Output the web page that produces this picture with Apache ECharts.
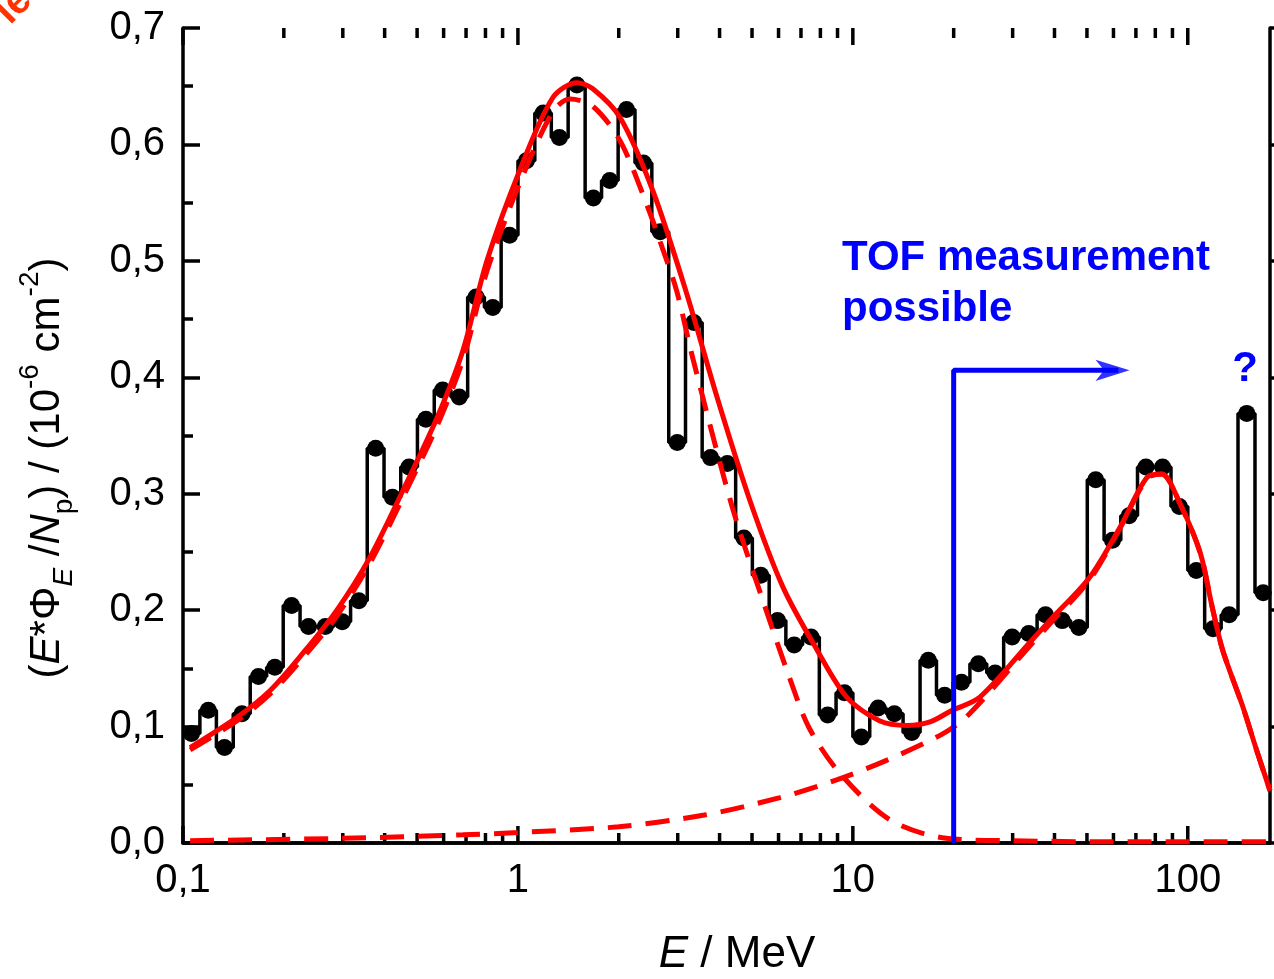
<!DOCTYPE html>
<html>
<head>
<meta charset="utf-8">
<script src="https://cdn.jsdelivr.net/npm/echarts@6/dist/echarts.min.js"></script>
<style>
  html, body { margin: 0; padding: 0; background: #fff; }
  #main { width: 1274px; height: 979px; }
</style>
</head>
<body>
<div id="main"></div>
<script>
// measured histogram (bin centre energy in MeV, E*Phi_E/N_p in 1e-6 cm^-2)
const binEnergy = [
  0.106, 0.119, 0.133, 0.150, 0.168, 0.188, 0.211, 0.237, 0.266, 0.299,
  0.335, 0.376, 0.422, 0.473, 0.531, 0.596, 0.668, 0.750, 0.841, 0.944,
  1.06, 1.19, 1.33, 1.50, 1.68, 1.88, 2.11, 2.37, 2.66, 2.99,
  3.35, 3.76, 4.22, 4.73, 5.31, 5.96, 6.68, 7.50, 8.41, 9.44,
  10.6, 11.9, 13.3, 15.0, 16.8, 18.8, 21.1, 23.7, 26.6, 29.9,
  33.5, 37.6, 42.2, 47.3, 53.1, 59.6, 66.8, 75.0, 84.1, 94.4,
  106, 119, 133, 150, 168
];
const binValue = [
  0.094, 0.114, 0.082, 0.111, 0.143, 0.151, 0.204, 0.186, 0.186, 0.190,
  0.208, 0.339, 0.297, 0.323, 0.364, 0.389, 0.383, 0.469, 0.460, 0.522,
  0.586, 0.627, 0.606, 0.651, 0.554, 0.569, 0.630, 0.584, 0.525, 0.344,
  0.447, 0.331, 0.326, 0.262, 0.230, 0.191, 0.170, 0.177, 0.110, 0.129,
  0.091, 0.116, 0.111, 0.095, 0.157, 0.127, 0.138, 0.154, 0.146, 0.177,
  0.180, 0.196, 0.191, 0.185, 0.312, 0.260, 0.281, 0.323, 0.323, 0.289,
  0.234, 0.184, 0.196, 0.369, 0.215
];

// total fit (solid red)
const fitEnergy = [
  0.105, 0.145, 0.182, 0.228, 0.288, 0.361, 0.454, 0.573, 0.685, 0.808,
  1.01, 1.27, 1.50, 1.67, 2.02, 2.53, 3.19, 3.93, 4.93, 6.18,
  7.81, 9.60, 12.0, 14.5, 17.0, 19.8, 23.9, 33.7, 38.7, 50.9,
  62.7, 75.5, 83.6, 94.6, 109, 118, 127, 146, 160, 176
];
const fitValue = [
  0.082, 0.108, 0.131, 0.163, 0.200, 0.245, 0.303, 0.365, 0.423, 0.500,
  0.577, 0.640, 0.653, 0.648, 0.623, 0.560, 0.472, 0.383, 0.294, 0.220,
  0.166, 0.125, 0.105, 0.101, 0.104, 0.114, 0.125, 0.172, 0.191, 0.228,
  0.271, 0.314, 0.317, 0.292, 0.249, 0.204, 0.166, 0.117, 0.081, 0.045
];

// low-energy component (dashed red)
const lowEnergy = [
  0.105, 0.145, 0.182, 0.228, 0.288, 0.361, 0.454, 0.573, 0.685, 0.808,
  1.01, 1.27, 1.43, 1.67, 2.02, 2.42, 2.70, 2.98, 3.33, 4.37,
  5.51, 6.47, 7.40, 9.14, 12.9, 19.0, 30, 60, 120, 176
];
const lowValue = [
  0.080, 0.105, 0.128, 0.159, 0.195, 0.240, 0.297, 0.358, 0.415, 0.491,
  0.566, 0.628, 0.639, 0.633, 0.603, 0.549, 0.511, 0.474, 0.416, 0.288,
  0.200, 0.142, 0.099, 0.060, 0.020, 0.004, 0.002, 0.001, 0.001, 0.001
];

// high-energy component (dashed red)
const highEnergy = [
  0.105, 0.3, 0.685, 1.0, 2.0, 3.6, 6.06, 8.9, 12.6, 18.6,
  22.3, 33.7, 38.7, 50.9, 62.7, 75.5, 83.6, 94.6, 109, 118,
  127, 146, 160, 176
];
const highValue = [
  0.002, 0.004, 0.007, 0.009, 0.014, 0.024, 0.039, 0.054, 0.071, 0.094,
  0.111, 0.169, 0.188, 0.226, 0.270, 0.313, 0.317, 0.292, 0.249, 0.204,
  0.166, 0.117, 0.081, 0.045
];

// TOF threshold arrow
const arrowEnergy = [20, 20, 62];
const arrowValue = [0, 0.406, 0.406];
const arrowHead = [67, 0.406];

const xMin = 0.1, xMax = 176;
const yMin = 0, yMax = 0.7;
const majorTickValues = [0.1, 1, 10, 100];
const minorTickValues = [
  0.2, 0.3, 0.4, 0.5, 0.6, 0.7, 0.8, 0.9,
  2, 3, 4, 5, 6, 7, 8, 9,
  20, 30, 40, 50, 60, 70, 80, 90
];

const FONT = "'Liberation Sans', Arial, Helvetica, sans-serif";
const zip = (xs, ys) => xs.map((x, i) => [x, ys[i]]);
const comma = v => String(v).replace('.', ',');

// ticks along the bottom and top frame; length carried in dim 1
function frameTicks(params, api) {
  const len = api.value(1);
  const b = api.coord([api.value(0), yMin]);
  const t = api.coord([api.value(0), yMax]);
  const st = { stroke: '#000', lineWidth: 3.5 };
  return {
    type: 'group',
    children: [
      { type: 'line', shape: { x1: b[0], y1: b[1], x2: b[0], y2: b[1] - len }, style: st },
      { type: 'line', shape: { x1: t[0], y1: t[1], x2: t[0], y2: t[1] + len }, style: st }
    ]
  };
}

const axisLine = { show: true, lineStyle: { color: '#000', width: 3.5 } };
const axisTick = { show: true, inside: true, length: 17, lineStyle: { color: '#000', width: 3.5 } };
const dashed = { color: '#ff0000', width: 5, type: [24, 14] };

const option = {
  animation: false,
  backgroundColor: '#fff',
  grid: { left: 183, right: 4, top: 28, bottom: 136, outerBoundsMode: 'none' },
  xAxis: [
    {
      type: 'log', logBase: 10, min: xMin, max: xMax, position: 'bottom',
      axisLine: axisLine, axisTick: { show: false },
      splitLine: { show: false }, minorTick: { show: false },
      axisLabel: {
        color: '#000', fontSize: 40, fontFamily: FONT, margin: 18,
        showMaxLabel: false, formatter: comma
      }
    },
    {
      type: 'log', logBase: 10, min: xMin, max: xMax, position: 'top',
      axisLine: axisLine, axisTick: { show: false },
      splitLine: { show: false }, axisLabel: { show: false }
    }
  ],
  yAxis: [
    {
      type: 'value', min: yMin, max: yMax, interval: 0.1, position: 'left',
      axisLine: axisLine, axisTick: axisTick,
      minorTick: { show: true, splitNumber: 2, length: 10, lineStyle: { color: '#000', width: 3.5 } },
      splitLine: { show: false },
      axisLabel: {
        color: '#000', fontSize: 40, fontFamily: FONT, margin: 18,
        formatter: v => v.toFixed(1).replace('.', ',')
      }
    },
    {
      type: 'value', min: yMin, max: yMax, interval: 0.1, position: 'right',
      axisLine: axisLine,
      axisTick: { show: true, inside: false, length: 17, lineStyle: { color: '#000', width: 3.5 } },
      splitLine: { show: false }, axisLabel: { show: false }
    }
  ],
  series: [
    {
      type: 'custom', renderItem: frameTicks, silent: true, clip: false,
      data: majorTickValues.map(v => [v, 17]).concat(minorTickValues.map(v => [v, 10])), z: 1
    },
    {
      name: 'measured', type: 'line', step: 'middle',
      data: zip(binEnergy, binValue),
      showAllSymbol: true, symbol: 'circle', symbolSize: 17,
      itemStyle: { color: '#000' },
      lineStyle: { color: '#000', width: 3.5 }, z: 2
    },
    {
      name: 'high', type: 'line', smooth: 0.3, symbol: 'none',
      data: zip(highEnergy, highValue), lineStyle: dashed, z: 3
    },
    {
      name: 'low', type: 'line', smooth: 0.3, symbol: 'none',
      data: zip(lowEnergy, lowValue), lineStyle: dashed, z: 3
    },
    {
      name: 'fit', type: 'line', smooth: 0.3, symbol: 'none',
      data: zip(fitEnergy, fitValue),
      lineStyle: { color: '#ff0000', width: 5 }, z: 4
    },
    {
      name: 'tof', type: 'line', symbol: 'none',
      data: zip(arrowEnergy, arrowValue),
      lineStyle: { color: '#0000ff', width: 5 }, z: 5
    },
    {
      name: 'tofHead', type: 'scatter', data: [arrowHead],
      symbol: 'arrow', symbolSize: [16, 34], symbolRotate: -90,
      itemStyle: { color: '#0000ff' }, z: 5
    }
  ],
  graphic: [
    {
      type: 'text', x: 47, y: 468, rotation: Math.PI / 2,
      style: {
        text: '({i|E}*Φ{subi|E} /{i|N}{sub|p}) / (10{sup|-6} cm{sup|-2})',
        fontSize: 42, fontFamily: FONT, fill: '#000',
        align: 'center', verticalAlign: 'middle',
        rich: {
          i: { fontSize: 42, fontStyle: 'italic', fontFamily: FONT, lineHeight: 62 },
          subi: { fontSize: 28, fontStyle: 'italic', fontFamily: FONT, verticalAlign: 'bottom', lineHeight: 62 },
          sub: { fontSize: 28, fontFamily: FONT, verticalAlign: 'bottom', lineHeight: 62 },
          sup: { fontSize: 28, fontFamily: FONT, verticalAlign: 'top', lineHeight: 62 }
        }
      }
    },
    {
      type: 'text', x: 737, y: 955,
      style: {
        text: '{i|E} / MeV', fontSize: 44, fontFamily: FONT, fill: '#000',
        align: 'center', verticalAlign: 'middle',
        rich: { i: { fontSize: 44, fontStyle: 'italic', fontFamily: FONT } }
      }
    },
    {
      type: 'text', x: 842, y: 258,
      style: { text: 'TOF measurement', fontSize: 42, fontWeight: 'bold', fontFamily: FONT, fill: '#0000ff', align: 'left', verticalAlign: 'middle' }
    },
    {
      type: 'text', x: 842, y: 309,
      style: { text: 'possible', fontSize: 42, fontWeight: 'bold', fontFamily: FONT, fill: '#0000ff', align: 'left', verticalAlign: 'middle' }
    },
    {
      type: 'text', x: 1245, y: 369,
      style: { text: '?', fontSize: 42, fontWeight: 'bold', fontFamily: FONT, fill: '#0000ff', align: 'center', verticalAlign: 'middle' }
    },
    {
      type: 'text', x: 14, y: 6, rotation: Math.PI / 4,
      style: { text: 'le', fontSize: 40, fontWeight: 'bold', fontFamily: FONT, fill: '#ff3300', align: 'center', verticalAlign: 'middle' }
    }
  ]
};

echarts.init(document.getElementById('main')).setOption(option);
</script>
</body>
</html>
